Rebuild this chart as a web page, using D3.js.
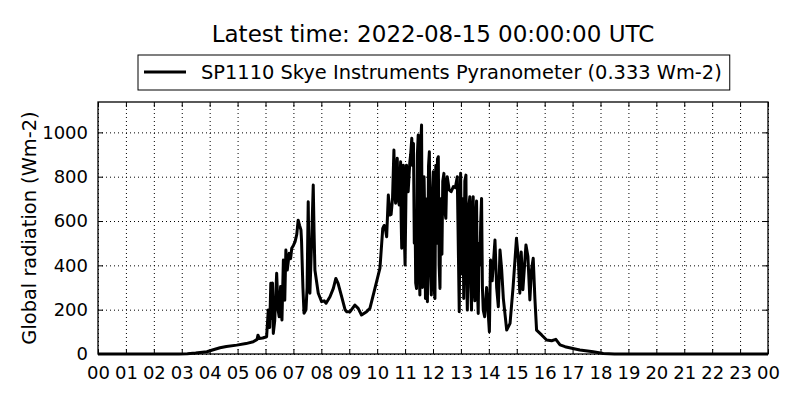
<!DOCTYPE html>
<html>
<head>
<meta charset="utf-8">
<script src="https://cdn.jsdelivr.net/npm/d3@7"></script>
<style>
  body { margin: 0; background: #fff; }
  svg { font-family: "DejaVu Sans", sans-serif; }
  .grid line { stroke: #000; stroke-width: 1; stroke-dasharray: 1,3; }
  .grid path { display: none; }
  .ticks path { display: none; }
  .ticks line { stroke: #000; stroke-width: 1; }
</style>
</head>
<body>
<div id="chart"></div>
<script>
// Chart data
var titleText = "Latest time: 2022-08-15 00:00:00 UTC";
var seriesName = "SP1110 Skye Instruments Pyranometer (0.333 Wm-2)";
var yLabel = "Global radiation (Wm-2)";
var dayStart = Date.UTC(2022, 7, 14);

// decimal hours (UTC) of 2022-08-14
var hours = [0, 1, 2, 2.9, 3.2, 3.5, 3.9, 4.1, 4.37, 4.6, 4.97, 5.3, 5.56, 5.7, 5.73, 5.78, 5.9, 6.04,
  6.1, 6.15, 6.19, 6.22, 6.25, 6.28, 6.33, 6.4, 6.45, 6.49, 6.54, 6.57, 6.59, 6.64, 6.67, 6.69, 6.73,
  6.78, 6.85, 6.9, 6.94, 7.0, 7.06, 7.12, 7.17, 7.22, 7.27, 7.29, 7.34, 7.38, 7.45, 7.49, 7.53, 7.56,
  7.59, 7.65, 7.71, 7.74, 7.77, 7.89, 8.01, 8.1, 8.17, 8.31, 8.43, 8.52, 8.6, 8.73, 8.85, 8.91, 9.03,
  9.2, 9.32, 9.44, 9.62, 9.74, 9.92, 10.1, 10.2, 10.25, 10.3, 10.34, 10.4, 10.46,
  10.5, 10.55, 10.6, 10.63, 10.66, 10.69, 10.72, 10.75, 10.79, 10.82, 10.84, 10.86, 10.88, 10.91,
  10.94, 10.97, 11.0, 11.03, 11.05, 11.08, 11.11, 11.14, 11.17, 11.2, 11.24, 11.27, 11.3, 11.33,
  11.36, 11.38, 11.41, 11.44, 11.47, 11.5, 11.53, 11.56, 11.59, 11.62, 11.65, 11.68, 11.7, 11.73,
  11.76, 11.78, 11.8, 11.84, 11.87, 11.9, 11.94, 11.97, 12.01, 12.04, 12.07, 12.1, 12.13, 12.16,
  12.19, 12.22, 12.25, 12.28, 12.32, 12.35, 12.39, 12.42, 12.46, 12.49, 12.51, 12.58, 12.65, 12.73,
  12.8, 12.87, 12.94, 12.97, 12.99, 13.02, 13.05, 13.07, 13.1, 13.14, 13.18, 13.2, 13.23, 13.27,
  13.32, 13.35, 13.38, 13.41, 13.44, 13.47, 13.5, 13.53, 13.56, 13.59, 13.62, 13.65, 13.68, 13.71,
  13.74, 13.77, 13.8, 13.85, 13.92, 14.02, 14.06, 14.12,
  14.22, 14.28, 14.34, 14.4, 14.46, 14.52, 14.64, 14.76, 14.87, 14.99, 15.05, 15.11, 15.16, 15.22,
  15.33, 15.4, 15.47, 15.53, 15.59, 15.65, 15.71, 15.89, 16.07, 16.25, 16.4, 16.55, 16.73, 16.97,
  17.26, 17.74, 18.1, 18.5, 24];

// global radiation (Wm-2)
var radiation = [0, 0, 0, 0, 1, 4, 10, 18, 28, 34, 40, 47, 55, 66, 85, 70, 72, 78,
  198, 120, 319, 160, 320, 93, 150, 364, 200, 168, 304, 180, 153, 424, 300, 243, 469,
  379, 454, 430, 477, 490, 507, 540, 604, 580, 560, 514, 300, 184, 200, 300, 687, 400,
  274, 500, 762, 550, 379, 274, 236, 240, 229, 258, 296, 341, 319, 258, 200, 191, 191,
  221, 206, 176, 191, 206, 296, 387, 567, 580, 560, 529, 717, 627,
  630, 700, 920, 750, 680, 800, 883, 700, 672, 780, 867, 600, 477, 700,
  852, 550, 401, 700, 852, 780, 732, 800, 867, 900, 973, 850, 950, 500,
  600, 320, 296, 900, 988, 400, 266, 950, 1033, 300, 356, 800, 650, 250,
  300, 700, 236, 850, 912, 400, 266, 700, 822, 300, 250, 850, 500, 880,
  890, 400, 296, 700, 450, 780, 815, 650, 612, 780, 800, 740, 732, 755,
  750, 800, 191, 700, 815, 400, 360, 700, 250, 780, 807, 400, 198, 650,
  710, 300, 198, 650, 710, 300, 240, 600, 690, 300, 183, 500, 400, 600,
  702, 300, 198, 168, 300, 100, 424, 330,
  514, 300, 213, 469, 380, 250, 108, 138, 304, 522, 440, 274, 460, 290,
  492, 440, 244, 380, 432, 250, 108, 86, 63, 60, 66, 41, 33, 26,
  18, 10, 2, 0, 0];

var yTicks = [0, 200, 400, 600, 800, 1000];
var yMax = 1137;

// Define SVG
var svgWidth = 800;
var svgHeight = 400;
var margin = { top: 102, right: 32, bottom: 46, left: 98 };
var chartWidth = svgWidth - margin.left - margin.right;
var chartHeight = svgHeight - margin.top - margin.bottom;

var svg = d3.select("#chart")
  .append("svg")
  .attr("width", svgWidth)
  .attr("height", svgHeight);

var chartGroup = svg.append("g")
  .attr("transform", `translate(${margin.left}, ${margin.top})`);

var data = hours.map((h, i) => ({ time: new Date(dayStart + h * 3600e3), value: radiation[i] }));

// Scales
var xScale = d3.scaleUtc()
  .domain([new Date(dayStart), new Date(dayStart + 24 * 3600e3)])
  .range([0, chartWidth]);

var yScale = d3.scaleLinear()
  .domain([0, yMax])
  .range([chartHeight, 0]);

var hourTicks = xScale.ticks(d3.utcHour.every(1));

// Dotted grid
chartGroup.append("g")
  .attr("class", "grid")
  .attr("transform", `translate(0, ${chartHeight})`)
  .call(d3.axisBottom(xScale).tickValues(hourTicks).tickSize(-chartHeight).tickFormat(""));

chartGroup.append("g")
  .attr("class", "grid")
  .call(d3.axisLeft(yScale).tickValues(yTicks).tickSize(-chartWidth).tickFormat(""));

// Data line
var line = d3.line()
  .x(d => xScale(d.time))
  .y(d => yScale(d.value));

chartGroup.append("path")
  .datum(data)
  .attr("fill", "none")
  .attr("stroke", "#000")
  .attr("stroke-width", 3)
  .attr("stroke-linejoin", "round")
  .attr("d", line);

// Inward ticks on all four sides
chartGroup.append("g")
  .attr("class", "ticks")
  .attr("transform", `translate(0, ${chartHeight})`)
  .call(d3.axisBottom(xScale).tickValues(hourTicks).tickSize(-5).tickPadding(12)
    .tickFormat(d3.utcFormat("%H")));

chartGroup.append("g")
  .attr("class", "ticks")
  .call(d3.axisTop(xScale).tickValues(hourTicks).tickSize(-5).tickFormat(""));

chartGroup.append("g")
  .attr("class", "ticks")
  .call(d3.axisLeft(yScale).tickValues(yTicks).tickSize(-5).tickPadding(10)
    .tickFormat(d3.format("d")));

chartGroup.append("g")
  .attr("class", "ticks")
  .attr("transform", `translate(${chartWidth}, 0)`)
  .call(d3.axisRight(yScale).tickValues(yTicks).tickSize(-5).tickFormat(""));

chartGroup.selectAll(".ticks text")
  .attr("font-family", "DejaVu Sans")
  .attr("font-size", 18)
  .attr("fill", "#000");

// Frame
chartGroup.append("rect")
  .attr("width", chartWidth)
  .attr("height", chartHeight)
  .attr("fill", "none")
  .attr("stroke", "#000")
  .attr("stroke-width", 1.3);

// Title
svg.append("text")
  .attr("x", margin.left + chartWidth / 2)
  .attr("y", 42)
  .attr("text-anchor", "middle")
  .attr("font-size", 23)
  .attr("fill", "#000")
  .text(titleText);

// Legend
var legend = svg.append("g");
var legendText = legend.append("text")
  .attr("x", 201)
  .attr("y", 79)
  .attr("font-size", 19.4)
  .attr("fill", "#000")
  .text(seriesName);
var textEnd = 201 + legendText.node().getComputedTextLength();

legend.insert("rect", "text")
  .attr("x", 138)
  .attr("y", 55)
  .attr("width", textEnd + 8 - 138)
  .attr("height", 35)
  .attr("fill", "#fff")
  .attr("stroke", "#000")
  .attr("stroke-width", 1);

legend.append("line")
  .attr("x1", 144)
  .attr("x2", 186)
  .attr("y1", 72)
  .attr("y2", 72)
  .attr("stroke", "#000")
  .attr("stroke-width", 3);

// Y axis label
svg.append("text")
  .attr("transform", "rotate(-90)")
  .attr("x", -(margin.top + chartHeight / 2))
  .attr("y", 36)
  .attr("text-anchor", "middle")
  .attr("font-size", 19.4)
  .attr("fill", "#000")
  .text(yLabel);
</script>
</body>
</html>
